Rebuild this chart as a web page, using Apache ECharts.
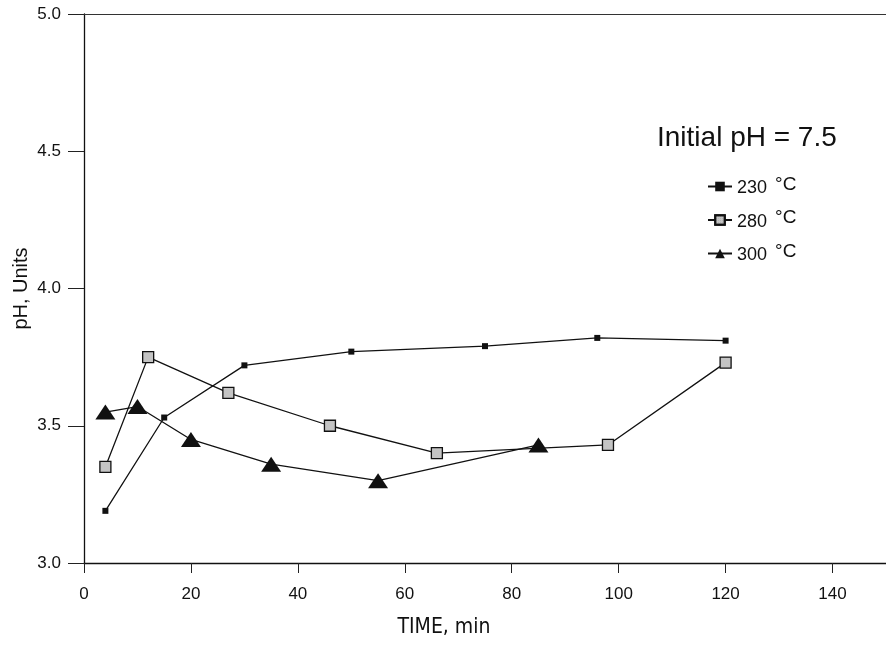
<!DOCTYPE html>
<html>
<head>
<meta charset="utf-8">
<script src="https://cdn.jsdelivr.net/npm/echarts@6/dist/echarts.min.js"></script>
<style>
  html, body { margin: 0; padding: 0; background: #fff; }
  #chart { width: 886px; height: 647px; }
</style>
</head>
<body>
<div id="chart"></div>
<script>
// pH of the solution over time at three temperatures
const time230 = [4, 15, 30, 50, 75, 96, 120];
const ph230   = [3.19, 3.53, 3.72, 3.77, 3.79, 3.82, 3.81];

const time280 = [4, 12, 27, 46, 66, 98, 120];
const ph280   = [3.35, 3.75, 3.62, 3.50, 3.40, 3.43, 3.73];

const time300 = [4, 10, 20, 35, 55, 85];
const ph300   = [3.55, 3.57, 3.45, 3.36, 3.30, 3.43];

const xTicks = [0, 20, 40, 60, 80, 100, 120, 140];

const tempLabels = ['230', '280', '300'];
const seriesNames = tempLabels.map(t => t + ' °C');

const pairs = (xs, ys) => xs.map((x, i) => [x, ys[i]]);

const font = 'Liberation Sans, Arial, sans-serif';
const ink = '#111';

const chart = echarts.init(document.getElementById('chart'), null, { renderer: 'canvas' });

chart.setOption({
  backgroundColor: '#fff',
  animation: false,
  title: {
    text: 'Initial pH = 7.5',
    left: 652,
    top: 119,
    textStyle: { fontFamily: font, fontSize: 28, fontWeight: 'normal', color: ink }
  },
  legend: {
    orient: 'vertical',
    left: 702,
    top: 170,
    itemGap: 11,
    itemWidth: 24,
    itemHeight: 12,
    data: seriesNames,
    formatter: name => '{n|' + name.replace(' °C', '') + '}{u|°C}',
    textStyle: {
      fontFamily: font,
      fontSize: 18,
      color: ink,
      rich: {
        n: { fontFamily: font, fontSize: 18, color: ink, padding: [4, 0, 0, 0] },
        u: { fontFamily: font, fontSize: 19, color: ink, padding: [0, 0, 4, 8] }
      }
    }
  },
  grid: { left: 84, right: 0, top: 14, bottom: 84, containLabel: false },
  xAxis: [{
    type: 'value',
    min: 0,
    max: 150,
    name: 'TIME, min',
    nameLocation: 'middle',
    nameGap: 54,
    nameMoveOverlap: false,
    nameTextStyle: {
      fontFamily: 'Liberation Sans Narrow, Arial Narrow, DejaVu Sans Condensed, sans-serif',
      fontSize: 21,
      color: ink,
      padding: [0, 82, 0, 0]
    },
    axisLine: { onZero: false, lineStyle: { color: ink, width: 1.3 } },
    axisTick: { show: true, length: 10, customValues: xTicks, lineStyle: { color: '#222' } },
    axisLabel: { customValues: xTicks, margin: 23, fontFamily: font, fontSize: 17, color: ink },
    splitLine: { show: false }
  }, {
    type: 'value',
    position: 'top',
    min: 0,
    max: 150,
    axisLine: { show: true, onZero: false, lineStyle: { color: '#333', width: 1.2 } },
    axisTick: { show: false },
    axisLabel: { show: false },
    splitLine: { show: false }
  }],
  yAxis: {
    type: 'value',
    min: 3,
    max: 5,
    interval: 0.5,
    name: 'pH, Units',
    nameLocation: 'middle',
    nameGap: 53,
    nameMoveOverlap: false,
    nameTextStyle: { fontFamily: font, fontSize: 20, color: ink },
    axisLine: { show: true, onZero: false, lineStyle: { color: ink, width: 1.3 } },
    axisTick: { show: true, length: 16, lineStyle: { color: '#222' } },
    axisLabel: { margin: 23, fontFamily: font, fontSize: 17, color: ink, formatter: v => v.toFixed(1) },
    splitLine: { show: false }
  },
  series: [{
    name: seriesNames[0],
    type: 'line',
    data: pairs(time230, ph230),
    symbol: 'rect',
    symbolSize: 6,
    lineStyle: { color: ink, width: 1.3 },
    itemStyle: { color: ink, borderColor: ink, borderWidth: 0 },
    z: 3
  }, {
    name: seriesNames[1],
    type: 'line',
    data: pairs(time280, ph280),
    symbol: 'rect',
    symbolSize: 11,
    lineStyle: { color: ink, width: 1.3 },
    itemStyle: {
      color: '#c4c4c4',
      borderColor: ink,
      borderWidth: 1.3,
      decal: { symbol: 'rect', symbolSize: 0.5, color: 'rgba(0,0,0,0.35)', dashArrayX: [1, 1], dashArrayY: [1, 1] }
    },
    z: 4
  }, {
    name: seriesNames[2],
    type: 'line',
    data: pairs(time300, ph300),
    symbol: 'triangle',
    symbolSize: [20, 15],
    lineStyle: { color: ink, width: 1.3 },
    itemStyle: { color: ink, borderColor: ink, borderWidth: 0 },
    z: 5
  }]
});
</script>
</body>
</html>
